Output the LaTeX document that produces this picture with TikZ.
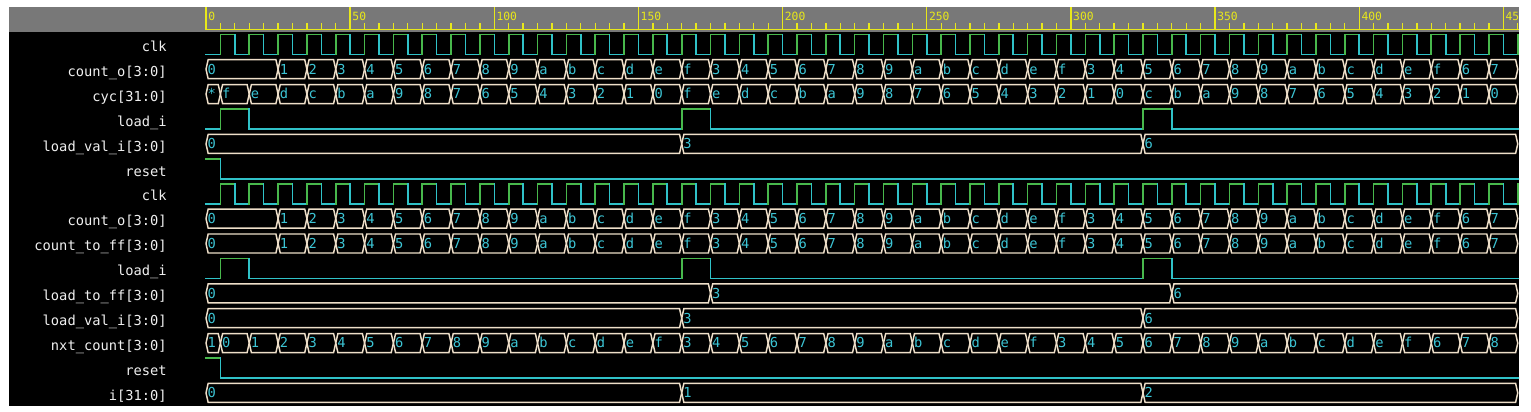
\documentclass[tikz,border=0pt]{standalone}
\usepackage{fontspec}
\setmonofont{DejaVu Sans Mono}
\definecolor{clrPanel}{HTML}{000000}
\definecolor{clrHead} {HTML}{787878}
\definecolor{clrRule} {HTML}{E8E81A}
\definecolor{clrHigh} {HTML}{48B84C}
\definecolor{clrLow}  {HTML}{30C2C8}
\definecolor{clrBus}  {HTML}{EEDFC9}
\definecolor{clrVal}  {HTML}{3CC4D4}
\definecolor{clrName} {HTML}{F0F0F0}

\newcommand{\busbox}[3]{%
  \draw[bus] (#2,#1) -- (#2+0.75,#1-9.5) -- (#3-0.75,#1-9.5) -- (#3,#1)
    -- (#3-0.75,#1+9.5) -- (#2+0.75,#1+9.5) -- cycle;}
\newcommand{\busset}[3]{%
  \foreach \ta/\tb/\v [count=\k] in {#3} {
    \busbox{#1}{\ta}{\tb}
    \node[busval] (#2-\k) at (\ta+0.5,#1+4.8) {\v};
  }}
\newcommand{\busseq}[4]{%
  \foreach \v [count=\k] in {#4} {
    \pgfmathsetmacro\ta{#3+10*(\k-1)}
    \pgfmathsetmacro\tb{min(\ta+10,455)}
    \busbox{#1}{\ta}{\tb}
    \node[busval] (#2-\k) at (\ta+0.5,#1+4.8) {\v};
  }}
\newcommand{\clkrow}[1]{%
  \draw[wavelo] (0,#1+10) -- (5,#1+10);
  \foreach \t in {5,15,...,445} {
    \draw[wavehi] (\t,#1+10) -- (\t,#1-10) -- (\t+5,#1-10);
    \draw[wavelo] (\t+5,#1-10) -- (\t+5,#1+10) -- (\t+10,#1+10);
  }
  \draw[wavehi] (455,#1+10) -- (455,#1-10);}
\newcommand{\loadrow}[1]{%
  \draw[wavelo] (0,#1+10) -- (5,#1+10);
  \foreach \ta/\tb/\tc in {5/15/165, 165/175/325, 325/335/456} {
    \draw[wavehi] (\ta,#1+10) -- (\ta,#1-10) -- (\tb,#1-10);
    \draw[wavelo] (\tb,#1-10) -- (\tb,#1+10) -- (\tc,#1+10);
  }}
\newcommand{\resetrow}[1]{%
  \draw[wavehi] (0,#1-10) -- (5,#1-10);
  \draw[wavelo] (5,#1-10) -- (5,#1+10) -- (456,#1+10);}

\begin{document}
\begin{tikzpicture}[x=0.75pt, y=-0.75pt,
  signame/.style={anchor=base east, inner sep=0pt, text=clrName,
                  font=\ttfamily\fontsize{10.3}{12}\selectfont},
  busval/.style={anchor=base west, inner sep=0pt, text=clrVal,
                 font=\ttfamily\fontsize{10.3}{12}\selectfont},
  ticklbl/.style={anchor=base west, inner sep=0pt, text=clrRule,
                  font=\ttfamily\fontsize{8.5}{10}\selectfont},
  bus/.style={draw=clrBus, line width=1.1pt, line join=miter},
  wavehi/.style={draw=clrHigh, line width=1.2pt, line cap=rect},
  wavelo/.style={draw=clrLow, line width=1.2pt, line cap=rect},
  rule/.style={draw=clrRule, line width=1pt},
]
\useasboundingbox (0,0) rectangle (1531,411);
\fill[clrPanel] (9,7) rectangle (1519,406);
\fill[clrHead] (9,7) rectangle (1519,32);
\foreach \s [count=\k from 0] in {clk, {count\_o[3:0]}, {cyc[31:0]}, load\_i,
    {load\_val\_i[3:0]}, reset, clk, {count\_o[3:0]}, {count\_to\_ff[3:0]},
    load\_i, {load\_to\_ff[3:0]}, {load\_val\_i[3:0]}, {nxt\_count[3:0]},
    reset, {i[31:0]}}
  \node[signame] (lbl\k) at (167,{51.5+24.9*\k}) {\s};

\begin{scope}
\clip (9,7) rectangle (1519,406);
\begin{scope}[shift={(206,0)}, x=2.16225pt]
\draw[rule] (0,29.5) -- (456,29.5);
\foreach \t in {5,10,...,455}
  \draw[rule] (\t,23) -- (\t,29.5);
\foreach \t in {0,50,...,450} {
  \draw[rule] (\t,7) -- (\t,29.5);
  \node[ticklbl] (tm\t) at (\t+0.7,20.8) {\t};
}

\clkrow{44.3}
\busset{69.2}{cntA}{0/25/0}
\busseq{69.2}{cntB}{25}{1,2,3,4,5,6,7,8,9,a,b,c,d,e,f,3,4,5,6,7,8,9,a,b,c,d,e,f,
  3,4,5,6,7,8,9,a,b,c,d,e,f,6,7}
\busset{94.1}{cycA}{0/5/*}
\busseq{94.1}{cycB}{5}{f,e,d,c,b,a,9,8,7,6,5,4,3,2,1,0,f,e,d,c,b,a,9,8,7,6,5,4,3,2,1,0,
  c,b,a,9,8,7,6,5,4,3,2,1,0}
\loadrow{119.0}
\busset{143.9}{lvalA}{0/165/0, 165/325/3, 325/455/6}
\resetrow{168.8}

\clkrow{193.7}
\busset{218.6}{cntC}{0/25/0}
\busseq{218.6}{cntD}{25}{1,2,3,4,5,6,7,8,9,a,b,c,d,e,f,3,4,5,6,7,8,9,a,b,c,d,e,f,
  3,4,5,6,7,8,9,a,b,c,d,e,f,6,7}
\busset{243.5}{ffA}{0/25/0}
\busseq{243.5}{ffB}{25}{1,2,3,4,5,6,7,8,9,a,b,c,d,e,f,3,4,5,6,7,8,9,a,b,c,d,e,f,
  3,4,5,6,7,8,9,a,b,c,d,e,f,6,7}
\loadrow{268.4}
\busset{293.3}{ldff}{0/175/0, 175/335/3, 335/455/6}
\busset{318.2}{lvalB}{0/165/0, 165/325/3, 325/455/6}
\busset{343.1}{nxtA}{0/5/1}
\busseq{343.1}{nxtB}{5}{0,1,2,3,4,5,6,7,8,9,a,b,c,d,e,f,3,4,5,6,7,8,9,a,b,c,d,e,f,
  3,4,5,6,7,8,9,a,b,c,d,e,f,6,7,8}
\resetrow{368.0}
\busset{392.9}{idx}{0/165/0, 165/325/1, 325/455/2}
\end{scope}
\end{scope}
\end{tikzpicture}
\end{document}
